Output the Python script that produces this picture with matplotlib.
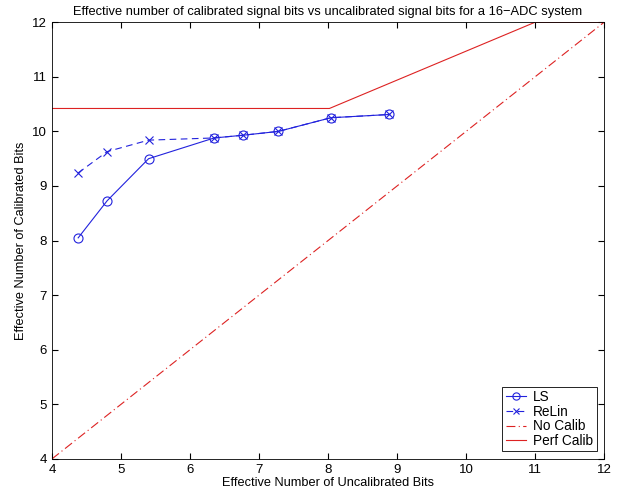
import matplotlib
matplotlib.use('Agg')
import matplotlib.pyplot as plt

plt.rcParams['font.family'] = ['Liberation Sans', 'DejaVu Sans']

# data
uncal_bits = [4.38, 4.80, 5.40, 6.35, 6.77, 7.28, 8.04, 8.89]
ls_bits = [8.05, 8.73, 9.50, 9.88, 9.93, 10.00, 10.25, 10.31]
relin_bits = [9.24, 9.63, 9.84, 9.88, 9.93, 10.00, 10.25, 10.31]
nocal_x = [4, 12]
nocal_y = [4, 12]
perf_x = [4, 8.02, 11, 12]
perf_y = [10.42, 10.42, 12, 12]

fig = plt.figure(figsize=(6.26, 4.94), dpi=100)
ax = fig.add_axes([0.083, 0.071, 0.882, 0.884])

ax.plot(uncal_bits, ls_bits, color='#2222dd', lw=0.8, marker='o',
        ms=6.5, mfc='none', mew=0.8, label='LS')
ax.plot(uncal_bits, relin_bits, color='#2222dd', lw=0.8, ls=(0, (6, 4)),
        marker='x', ms=6, mew=0.8, label='ReLin')
ax.plot(nocal_x, nocal_y, color='#dd2222', lw=0.8, ls=(0, (8, 3, 1, 3)),
        label='No Calib')
ax.plot(perf_x, perf_y, color='#dd2222', lw=0.8, label='Perf Calib')

ax.set_xlim(4, 12)
ax.set_ylim(4, 12)
ax.set_xticks(range(4, 13))
ax.set_yticks(range(4, 13))
ax.tick_params(direction='in', top=True, right=True, labelsize=9.5, length=4)
for s in ax.spines.values():
    s.set_linewidth(0.6)

ax.set_xlabel('Effective Number of Uncalibrated Bits', fontsize=9.2, labelpad=1)
ax.set_ylabel('Effective Number of Calibrated Bits', fontsize=9.2, labelpad=4)
ax.set_title('Effective number of calibrated signal bits vs uncalibrated signal bits for a 16\u2212ADC system',
             fontsize=9.3, pad=5)

leg = ax.legend(loc='lower right', fontsize=9.8, fancybox=False, framealpha=1,
                edgecolor='black', handlelength=1.5, handletextpad=0.5,
                borderaxespad=0.55, labelspacing=0.05, borderpad=0.25,
                markerscale=0.8)
leg.get_frame().set_linewidth(0.6)

fig.savefig('out.png', dpi=100)
